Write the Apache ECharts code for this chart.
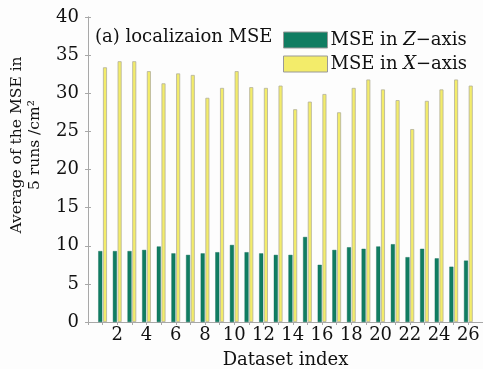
<!DOCTYPE html>
<html>
<head>
<meta charset="utf-8">
<script src="https://cdn.jsdelivr.net/npm/echarts@6/dist/echarts.min.js"></script>
<style>
  html, body { margin: 0; padding: 0; background: #fdfdfd; }
  #chart { width: 483px; height: 369px; }
</style>
</head>
<body>
<div id="chart"></div>
<script>
// Dataset indices 1..26
const datasetIndex = [1,2,3,4,5,6,7,8,9,10,11,12,13,14,15,16,17,18,19,20,21,22,23,24,25,26];
// Average MSE over 5 runs (cm^2)
const mseZ = [9.3,9.3,9.3,9.45,9.9,9.0,8.8,9.0,9.15,10.1,9.15,9.0,8.8,8.8,11.15,7.5,9.45,9.8,9.6,9.9,10.2,8.5,9.6,8.35,7.25,8.05];
const mseX = [33.4,34.2,34.2,32.9,31.3,32.6,32.4,29.4,30.7,32.9,30.8,30.7,31.0,27.9,28.9,29.9,27.5,30.7,31.8,30.5,29.1,25.3,29.0,30.5,31.8,31.0];
const yTicks = [0,5,10,15,20,25,30,35,40];
const xTickLabels = [2,4,6,8,10,12,14,16,18,20,22,24,26];

const serif = 'DejaVu Serif';
const ink = '#111';
const frame = '#a8a8a8';

const chart = echarts.init(document.getElementById('chart'), null, { renderer: 'canvas' });
chart.setOption({
  backgroundColor: '#fdfdfd',
  animation: false,
  title: {
    text: '(a) localizaion MSE',
    left: 95, top: 28, padding: 0,
    textStyle: { fontFamily: serif, fontSize: 18, fontWeight: 'normal', color: ink }
  },
  legend: {
    orient: 'vertical',
    left: 283, top: 31, padding: 0,
    icon: 'rect',
    itemWidth: 44, itemHeight: 16, itemGap: 6,
    itemStyle: { borderColor: '#999', borderWidth: 1 },
    textStyle: {
      fontFamily: serif, fontSize: 18, color: ink, padding: [0, 0, 0, -2],
      rich: {
        n: { fontFamily: serif, fontSize: 18, color: ink },
        i: { fontFamily: serif, fontSize: 18, color: ink, fontStyle: 'italic' }
      }
    },
    formatter: function (name) {
      const ax = name === 'Z' ? 'Z' : 'X';
      return '{n|MSE in }{i|' + ax + '}{n|\u2212axis}';
    },
    data: ['Z', 'X']
  },
  graphic: [{
    type: 'text',
    x: 26, y: 145,
    rotation: Math.PI / 2,
    style: {
      text: 'Average of the MSE in\n5 runs /cm\u00b2',
      fontFamily: serif, fontSize: 15.5, fill: ink,
      align: 'center', verticalAlign: 'middle', lineHeight: 18
    }
  }],
  grid: { left: 88, right: 0, top: 17, bottom: 47, outerBoundsMode: 'none', containLabel: false },
  xAxis: [{
    type: 'value', min: 0, max: 27, interval: 2,
    position: 'bottom',
    name: 'Dataset index', nameLocation: 'middle', nameGap: 29,
    nameTextStyle: { fontFamily: serif, fontSize: 18, color: ink },
    axisLine: { show: true, lineStyle: { color: frame } },
    axisTick: { show: false },
    splitLine: { show: false },
    axisLabel: {
      fontFamily: serif, fontSize: 18, color: ink, margin: 4,
      formatter: v => (xTickLabels.indexOf(v) >= 0 ? String(v) : '')
    }
  }, {
    type: 'value', min: 0, max: 27, interval: 1,
    position: 'top',
    axisLine: { show: true, lineStyle: { color: frame } },
    axisTick: { show: true, inside: true, length: 3, lineStyle: { color: frame } },
    axisLabel: { show: false },
    splitLine: { show: false }
  }],
  yAxis: [{
    type: 'value', min: yTicks[0], max: yTicks[yTicks.length - 1], interval: 5,
    axisLine: { show: true, lineStyle: { color: frame } },
    axisTick: { show: true, inside: true, length: 3, lineStyle: { color: frame } },
    axisLabel: { fontFamily: serif, fontSize: 18, color: ink, margin: 9 },
    splitLine: { show: false }
  }, {
    type: 'value', min: 0, max: 40, interval: 5,
    position: 'right',
    axisLine: { show: true, lineStyle: { color: frame } },
    axisTick: { show: true, inside: true, length: 3, lineStyle: { color: frame } },
    axisLabel: { show: false },
    splitLine: { show: false }
  }],
  series: [{
    name: 'Z', type: 'bar',
    xAxisIndex: 0, yAxisIndex: 0,
    barWidth: 4, barGap: '18%',
    itemStyle: { color: '#107d62', borderColor: '#0f6a55', borderWidth: 0.4 },
    data: datasetIndex.map((d, i) => [d, mseZ[i]])
  }, {
    name: 'X', type: 'bar',
    xAxisIndex: 0, yAxisIndex: 0,
    barWidth: 4, barGap: '18%',
    itemStyle: { color: '#f3ec6a', borderColor: '#b3b09a', borderWidth: 0.8 },
    data: datasetIndex.map((d, i) => [d, mseX[i]])
  }]
});
</script>
</body>
</html>
